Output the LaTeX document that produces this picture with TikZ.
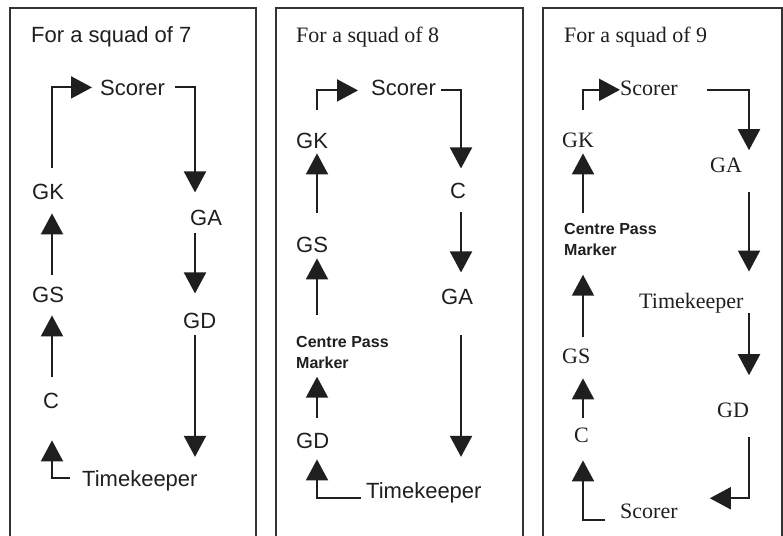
\documentclass[tikz,border=0pt]{standalone}
\usepackage{fontspec}
\newfontfamily\sansf{Liberation Sans}
\newfontfamily\seriff{Liberation Serif}
\usetikzlibrary{arrows.meta}
\tikzset{
  lbl/.style={inner sep=0pt, anchor=base west, text=black!88},
  sa/.style={lbl, font=\sansf\fontsize{22}{26}\selectfont},
  se/.style={lbl, font=\seriff\fontsize{22}{26}\selectfont},
  cp/.style={inner sep=0pt, anchor=north west, text=black!88, align=left,
             font=\sansf\bfseries\fontsize{16}{21}\selectfont},
  arr/.style={draw=black!88, line width=2pt, -{Triangle[length=21pt,width=22pt]}},
  panel/.style={draw=black!80, line width=1.8pt}
}
\begin{document}
\begin{tikzpicture}[x=1pt,y=-1pt]
\useasboundingbox (0,0) rectangle (783,535);
\fill[white] (0,0) rectangle (783,535);
% panel frames
\draw[panel] (10,540) -- (10,8) -- (256,8) -- (256,540);
\draw[panel] (276,540) -- (276,8) -- (523,8) -- (523,540);
\draw[panel] (543,540) -- (543,8) -- (782,8) -- (782,540);

% ---------- Panel 1: squad of 7 ----------
\coordinate (c1L) at (52,0);
\coordinate (c1R) at (195,0);
\node[sa] (t1) at (31,43) {For a squad of 7};
\node[sa] (s1) at (100,95) {Scorer};
\node[sa] (gk1) at (32,199) {GK};
\node[sa] (ga1) at (190,225) {GA};
\node[sa] (gs1) at (32,302) {GS};
\node[sa] (gd1) at (183,328) {GD};
\node[sa] (c1) at (43,408) {C};
\node[sa] (tk1) at (82,486) {Timekeeper};

\draw[arr, shorten <=15pt, shorten >=8pt] (gk1.north -| c1L) |- (s1.west);
\draw[arr, shorten <=10pt, shorten >=17pt] (s1.east) -| (ga1.north -| c1R);
\draw[arr, shorten <=8pt, shorten >=19pt] (ga1.south -| c1R) -- (gd1.north -| c1R);
\draw[arr, shorten <=7pt, shorten >=13pt] (gd1.south -| c1R) -- (tk1.north -| c1R);
\draw[arr, shorten <=12pt, shorten >=32pt] ([yshift=2pt]tk1.west) -| (c1.south -| c1L);
\draw[arr, shorten <=15pt, shorten >=13pt] (c1.north -| c1L) -- (gs1.south -| c1L);
\draw[arr, shorten <=11pt, shorten >=14pt] (gs1.north -| c1L) -- (gk1.south -| c1L);

% ---------- Panel 2: squad of 8 ----------
\coordinate (c2L) at (317,0);
\coordinate (c2R) at (461,0);
\node[se] (t2) at (296,43) {For a squad of 8};
\node[sa] (s2) at (371,95) {Scorer};
\node[sa] (gk2) at (296,148) {GK};
\node[sa] (c2) at (450,198) {C};
\node[sa] (gs2) at (296,252) {GS};
\node[sa] (ga2) at (441,304) {GA};
\node[cp] (cpm2) at (296,336) {Centre Pass\\Marker};
\node[sa] (gd2) at (296,448) {GD};
\node[sa] (tk2) at (366,498) {Timekeeper};

\draw[arr, shorten <=22pt, shorten >=13pt] (gk2.north -| c2L) |- ([yshift=-3pt]s2.west);
\draw[arr, shorten <=5pt, shorten >=14pt] ([yshift=-3pt]s2.east) -| (c2.north -| c2R);
\draw[arr, shorten <=14pt, shorten >=16pt] (c2.south -| c2R) -- (ga2.north -| c2R);
\draw[arr, shorten <=31pt, shorten >=25pt] (ga2.south -| c2R) -- (tk2.north -| c2R);
\draw[arr, shorten <=5pt, shorten >=11pt] (tk2.base west) -| (gd2.south -| c2L);
\draw[arr, shorten <=14pt, shorten >=8pt] (gd2.north -| c2L) -- (cpm2.south -| c2L);
\draw[arr, shorten <=21pt, shorten >=6pt] (cpm2.north -| c2L) -- (gs2.south -| c2L);
\draw[arr, shorten <=23pt, shorten >=5pt] (gs2.north -| c2L) -- (gk2.south -| c2L);

% ---------- Panel 3: squad of 9 ----------
\coordinate (c3L) at (583,0);
\coordinate (c3R) at (749,0);
\node[se] (t3) at (564,43) {For a squad of 9};
\node[se] (s3a) at (620,95) {Scorer};
\node[se] (gk3) at (562,147) {GK};
\node[se] (ga3) at (710,172) {GA};
\node[cp] (cpm3) at (564,223) {Centre Pass\\Marker};
\node[se] (tk3) at (639,308) {Timekeeper};
\node[se] (gs3) at (562,363) {GS};
\node[se] (gd3) at (717,417) {GD};
\node[se] (c3) at (574,442) {C};
\node[se] (s3b) at (620,518) {Scorer};

\draw[arr, shorten <=22pt, shorten >=0pt] (gk3.north -| c3L) |- ([yshift=-2pt]s3a.west);
\draw[arr, shorten <=29pt, shorten >=7pt] ([yshift=-2pt]s3a.east) -| (ga3.north -| c3R);
\draw[arr, shorten <=20pt, shorten >=21pt] (ga3.south -| c3R) -- (tk3.north -| c3R);
\draw[arr, shorten <=0pt, shorten >=27pt] (tk3.south -| c3R) -- (gd3.north -| c3R);
\draw[arr, shorten <=20pt, shorten >=32pt] (gd3.south -| c3R) |- ([yshift=5pt]s3b.north east);
\draw[arr, shorten <=15pt, shorten >=18pt] ([yshift=-2pt]s3b.base west) -| (c3.south -| c3L);
\draw[arr, shorten <=9pt, shorten >=15pt] (c3.north -| c3L) -- (gs3.south -| c3L);
\draw[arr, shorten <=11pt, shorten >=19pt] (gs3.north -| c3L) -- (cpm3.south -| c3L);
\draw[arr, shorten <=10pt, shorten >=6pt] (cpm3.north -| c3L) -- (gk3.south -| c3L);
\end{tikzpicture}
\end{document}
